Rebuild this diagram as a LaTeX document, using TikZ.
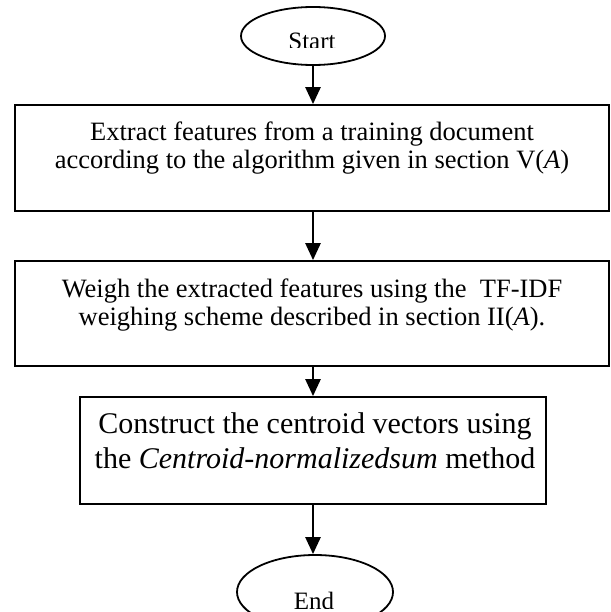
\documentclass[tikz,border=0pt]{standalone}
\usepackage{fontspec}
\setmainfont{Liberation Serif}
\usetikzlibrary{shapes.geometric,arrows.meta}
\begin{document}
\begin{tikzpicture}[x=1pt,y=-1pt,
  box/.style={draw,line width=1.8pt,inner sep=0pt},
  oval/.style={draw,ellipse,line width=1.8pt,inner sep=0pt},
  arr/.style={line width=2.6pt,-{Triangle[length=17pt,width=15pt]}},
  txtA/.style={font=\fontsize{26.5}{30}\selectfont,anchor=base,inner sep=0pt},
  txtB/.style={font=\fontsize{30}{35}\selectfont,anchor=base,inner sep=0pt},
  txtC/.style={font=\fontsize{25}{29}\selectfont,anchor=base,inner sep=0pt}]
\useasboundingbox (0,0) rectangle (610,612);
% Start
\node[oval,minimum width=144pt,minimum height=58pt] (start) at (313,36) {};
\begin{scope}
  \clip (200,0) rectangle (420,47.5);
  \node[txtC] (starttxt) at (312,50) {Start};
\end{scope}
% Box 1
\node[box,minimum width=594pt,minimum height=106pt] (b1) at (312,158) {};
\node[txtA] (b1l1) at (312,141) {Extract features from a training document};
\node[txtA] (b1l2) at (312,169) {according to the algorithm given in section V(\textit{A})};
% Box 2
\node[box,minimum width=594pt,minimum height=105pt] (b2) at (312,313.5) {};
\node[txtA] (b2l1) at (312,297) {Weigh the extracted features using the \ TF-IDF};
\node[txtA] (b2l2) at (312,325) {weighing scheme described in section II(\textit{A}).};
% Box 3
\node[box,minimum width=466pt,minimum height=107pt] (b3) at (313,450.5) {};
\node[txtB] (b3l1) at (315,433) {Construct the centroid vectors using};
\node[txtB] (b3l2) at (315,468) {the \textit{Centroid-normalizedsum} method};
% End
\node[oval,minimum width=156pt,minimum height=74pt] (end) at (315,592) {};
\begin{scope}
  \clip (200,540) rectangle (420,608);
  \node[txtC] (endtxt) at (314,609) {End};
\end{scope}
% Arrows
\draw[arr] (start.south) -- (start.south |- b1.north);
\draw[arr] (b1.south -| start.south) -- (start.south |- b2.north);
\draw[arr] (b2.south -| start.south) -- (start.south |- b3.north);
\draw[arr] (b3.south -| start.south) -- (start.south |- end.north);
\end{tikzpicture}
\end{document}
